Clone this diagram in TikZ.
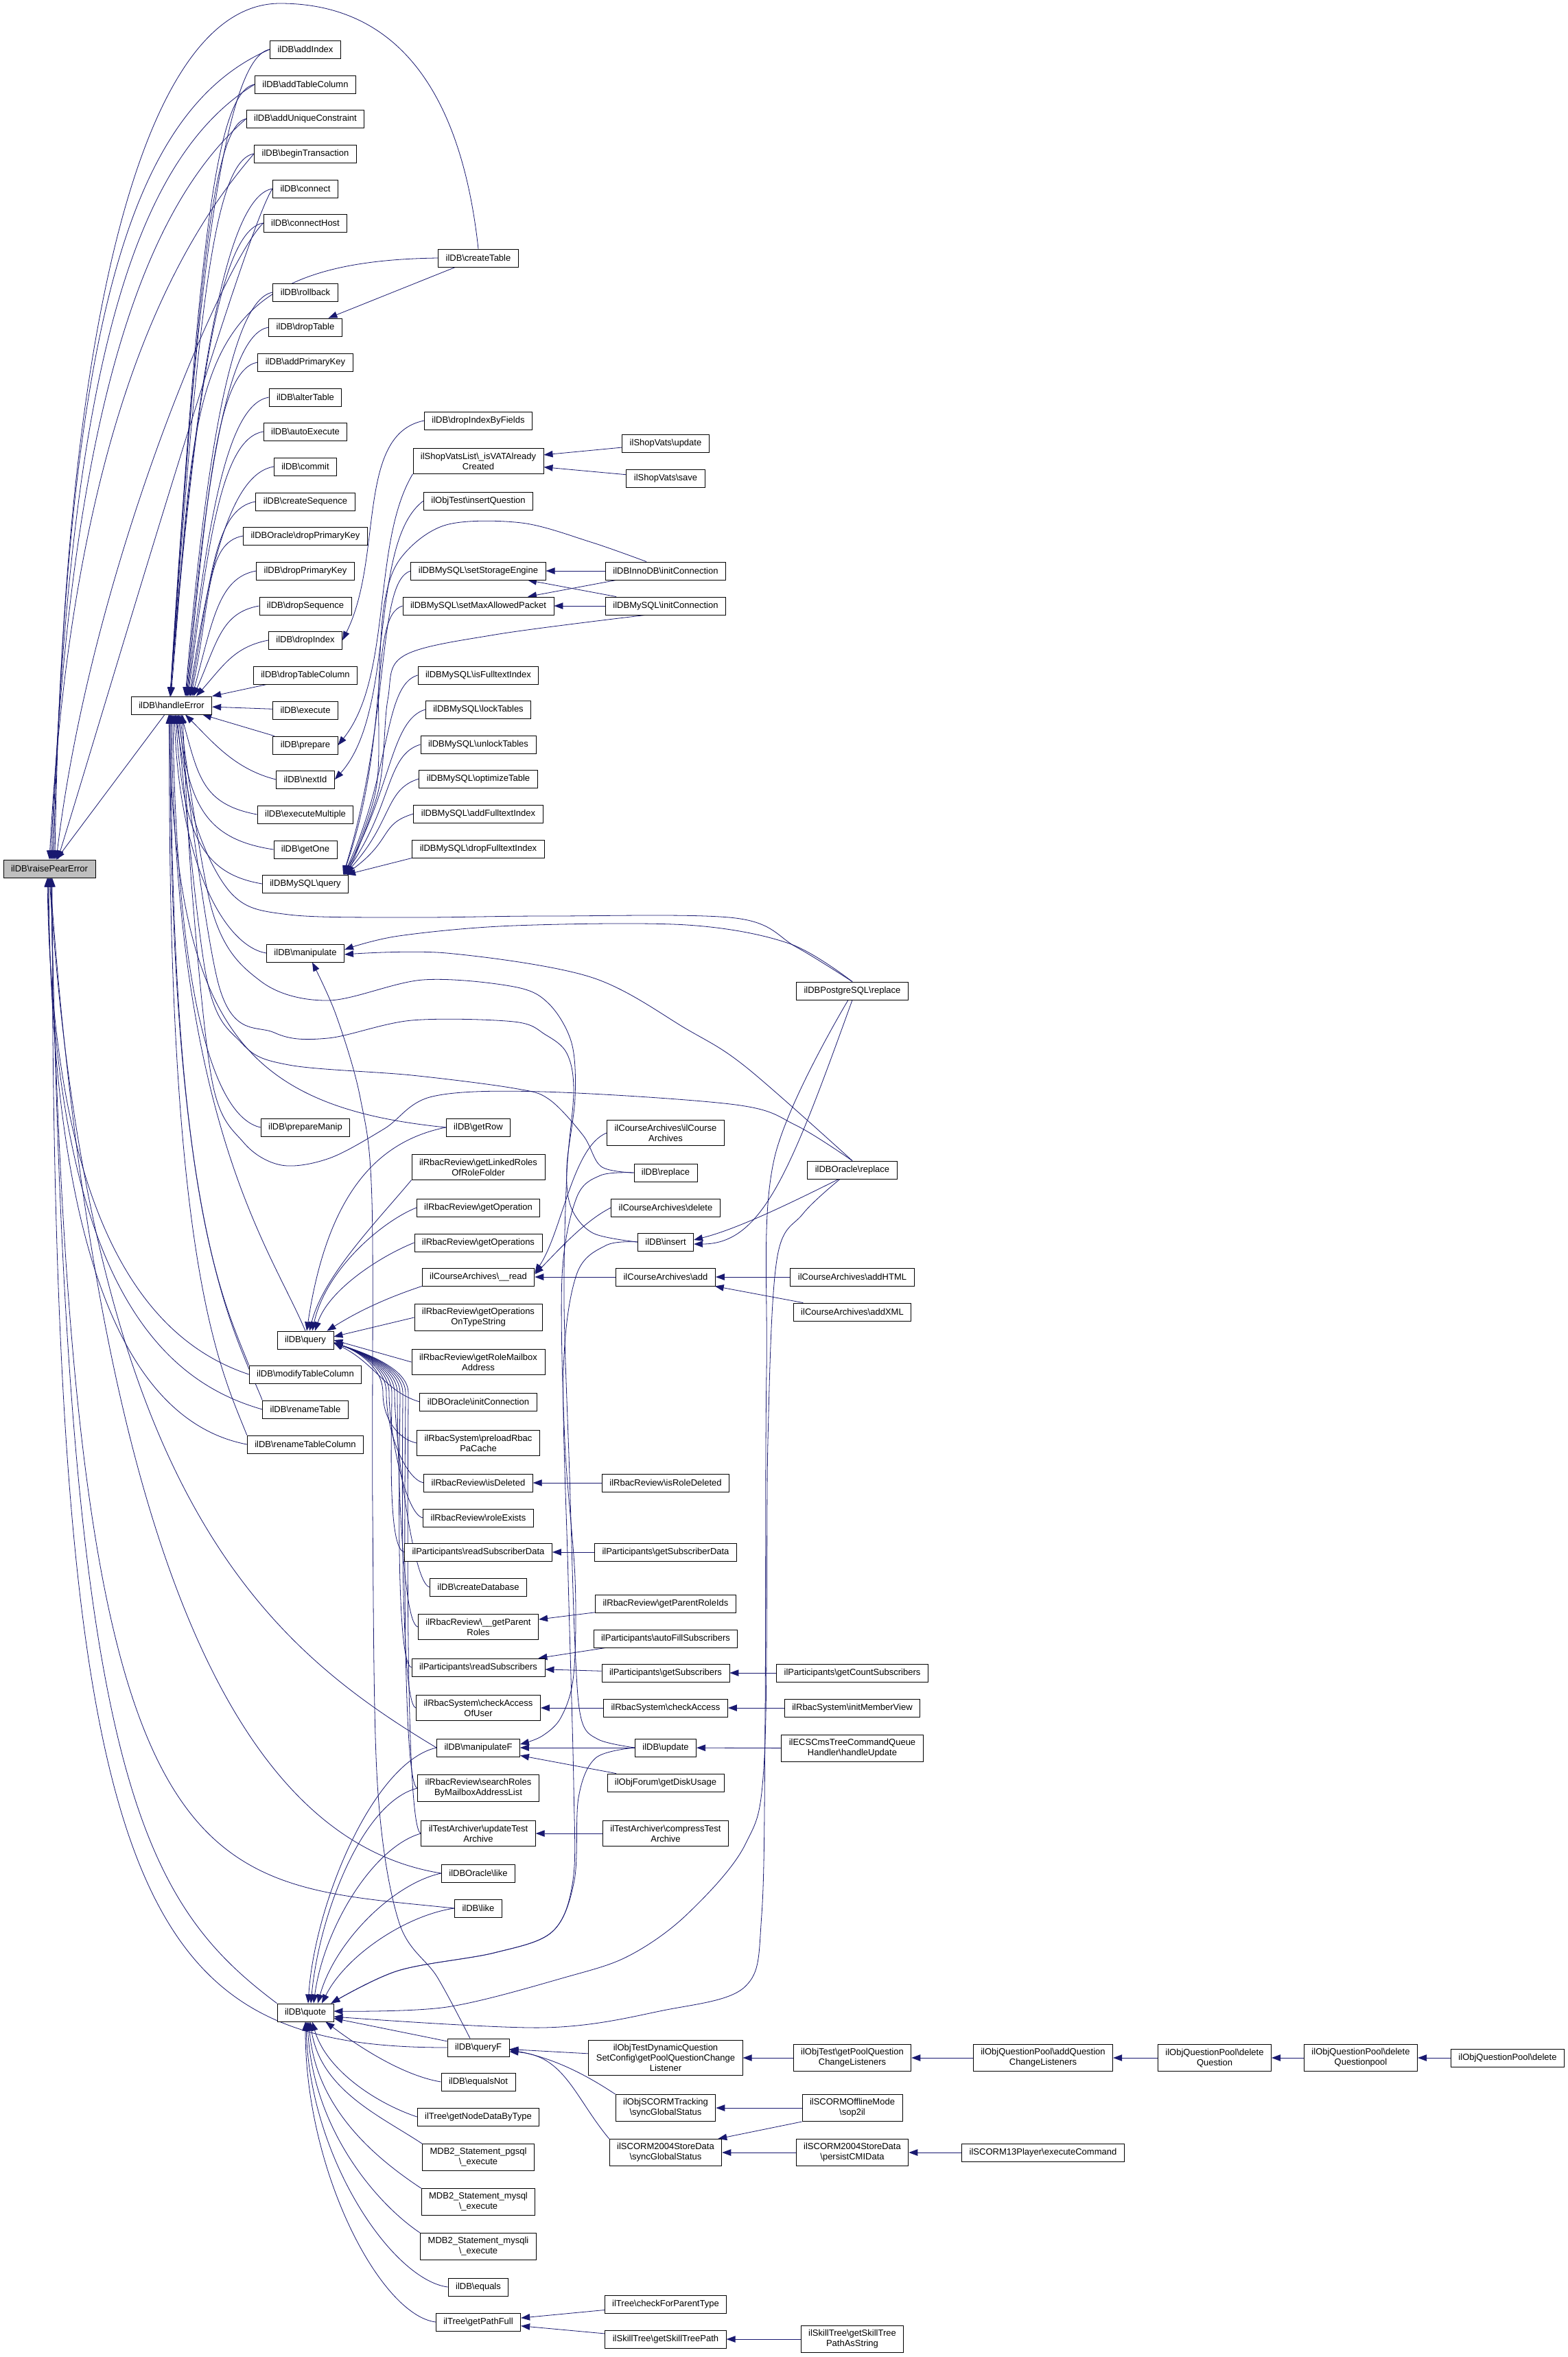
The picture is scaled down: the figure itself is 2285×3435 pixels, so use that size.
\documentclass[tikz,border=0pt]{standalone}
\usepackage{fontspec}
\setmainfont{Liberation Sans}
\usetikzlibrary{arrows.meta,backgrounds}
\definecolor{edgeblue}{HTML}{191970}
\newcommand{\bsl}{\textbackslash}

\begin{document}
\begin{tikzpicture}[x=1pt, y=1pt,
  fn/.style={draw=black, line width=0.9pt, fill=white, font=\fontsize{13}{15}\selectfont,
    inner xsep=11pt, inner ysep=6pt, minimum height=26pt, align=center},
  hit/.style={fn, fill=black!25},
  call/.style={draw=edgeblue, line width=0.8pt, -{Triangle[length=13pt, width=9.5pt]}}]
  \useasboundingbox (0,0) rectangle (2285,-3435);

  % callee and the error handler
  \node[hit] (rpe) at (72,-1266) {ilDB\bsl raisePearError};
  \node[fn] (he) at (250,-1028) {ilDB\bsl handleError};

  % ilDB methods
  \node[fn] (addIndex) at (445,-72) {ilDB\bsl addIndex};
  \node[fn] (addTableColumn) at (445,-123) {ilDB\bsl addTableColumn};
  \node[fn] (addUniqueConstraint) at (445,-173) {ilDB\bsl addUniqueConstraint};
  \node[fn] (beginTransaction) at (445,-224) {ilDB\bsl beginTransaction};
  \node[fn] (connect) at (445,-275) {ilDB\bsl connect};
  \node[fn] (connectHost) at (445,-325) {ilDB\bsl connectHost};
  \node[fn] (rollback) at (445,-426) {ilDB\bsl rollback};
  \node[fn] (dropTable) at (445,-477) {ilDB\bsl dropTable};
  \node[fn] (addPrimaryKey) at (445,-528) {ilDB\bsl addPrimaryKey};
  \node[fn] (alterTable) at (445,-579) {ilDB\bsl alterTable};
  \node[fn] (autoExecute) at (445,-629) {ilDB\bsl autoExecute};
  \node[fn] (commit) at (445,-680) {ilDB\bsl commit};
  \node[fn] (createSequence) at (445,-731) {ilDB\bsl createSequence};
  \node[fn] (oraDropPK) at (445,-781) {ilDBOracle\bsl dropPrimaryKey};
  \node[fn] (dropPrimaryKey) at (445,-832) {ilDB\bsl dropPrimaryKey};
  \node[fn] (dropSequence) at (445,-883) {ilDB\bsl dropSequence};
  \node[fn] (dropIndex) at (445,-933) {ilDB\bsl dropIndex};
  \node[fn] (dropTableColumn) at (445,-984) {ilDB\bsl dropTableColumn};
  \node[fn] (execute) at (445,-1035) {ilDB\bsl execute};
  \node[fn] (prepare) at (445,-1086) {ilDB\bsl prepare};
  \node[fn] (nextId) at (445,-1136) {ilDB\bsl nextId};
  \node[fn] (executeMultiple) at (445,-1187) {ilDB\bsl executeMultiple};
  \node[fn] (getOne) at (445,-1238) {ilDB\bsl getOne};
  \node[fn] (myQuery) at (445,-1288) {ilDBMySQL\bsl query};
  \node[fn] (manipulate) at (445,-1389) {ilDB\bsl manipulate};
  \node[fn] (prepareManip) at (445,-1643) {ilDB\bsl prepareManip};
  \node[fn] (query) at (445,-1953) {ilDB\bsl query};
  \node[fn] (modifyTableColumn) at (445,-2003) {ilDB\bsl modifyTableColumn};
  \node[fn] (renameTable) at (445,-2054) {ilDB\bsl renameTable};
  \node[fn] (renameTableColumn) at (445,-2105) {ilDB\bsl renameTableColumn};
  \node[fn] (quote) at (445,-2933) {ilDB\bsl quote};

  % second row of callers
  \node[fn] (createTable) at (697,-376) {ilDB\bsl createTable};
  \node[fn] (dropIndexByFields) at (697,-613) {ilDB\bsl dropIndexByFields};
  \node[fn] (isVAT) at (697,-672) {ilShopVatsList\bsl\_isVATAlready\\Created};
  \node[fn] (insertQuestion) at (697,-730) {ilObjTest\bsl insertQuestion};
  \node[fn] (setStorageEngine) at (697,-832) {ilDBMySQL\bsl setStorageEngine};
  \node[fn] (setMaxAllowedPacket) at (697,-883) {ilDBMySQL\bsl setMaxAllowedPacket};
  \node[fn] (isFulltextIndex) at (697,-984) {ilDBMySQL\bsl isFulltextIndex};
  \node[fn] (lockTables) at (697,-1034) {ilDBMySQL\bsl lockTables};
  \node[fn] (unlockTables) at (697,-1085) {ilDBMySQL\bsl unlockTables};
  \node[fn] (optimizeTable) at (697,-1135) {ilDBMySQL\bsl optimizeTable};
  \node[fn] (addFulltextIndex) at (697,-1186) {ilDBMySQL\bsl addFulltextIndex};
  \node[fn] (dropFulltextIndex) at (697,-1237) {ilDBMySQL\bsl dropFulltextIndex};
  \node[fn] (getRow) at (697,-1643) {ilDB\bsl getRow};
  \node[fn] (getLinkedRoles) at (697,-1701) {ilRbacReview\bsl getLinkedRoles\\OfRoleFolder};
  \node[fn] (getOperation) at (697,-1760) {ilRbacReview\bsl getOperation};
  \node[fn] (getOperations) at (697,-1811) {ilRbacReview\bsl getOperations};
  \node[fn] (read) at (697,-1861) {ilCourseArchives\bsl\_\_read};
  \node[fn] (getOpsOnType) at (697,-1920) {ilRbacReview\bsl getOperations\\OnTypeString};
  \node[fn] (getRoleMailbox) at (697,-1985) {ilRbacReview\bsl getRoleMailbox\\Address};
  \node[fn] (oraInitConn) at (697,-2043) {ilDBOracle\bsl initConnection};
  \node[fn] (preloadRbac) at (697,-2103) {ilRbacSystem\bsl preloadRbac\\PaCache};
  \node[fn] (isDeleted) at (697,-2161) {ilRbacReview\bsl isDeleted};
  \node[fn] (roleExists) at (697,-2212) {ilRbacReview\bsl roleExists};
  \node[fn] (readSubscriberData) at (697,-2262) {ilParticipants\bsl readSubscriberData};
  \node[fn] (createDatabase) at (697,-2313) {ilDB\bsl createDatabase};
  \node[fn] (getParentRoles) at (697,-2371) {ilRbacReview\bsl\_\_getParent\\Roles};
  \node[fn] (readSubscribers) at (697,-2430) {ilParticipants\bsl readSubscribers};
  \node[fn] (checkAccessOfUser) at (697,-2489) {ilRbacSystem\bsl checkAccess\\OfUser};
  \node[fn] (manipulateF) at (697,-2547) {ilDB\bsl manipulateF};
  \node[fn] (searchRoles) at (697,-2606) {ilRbacReview\bsl searchRoles\\ByMailboxAddressList};
  \node[fn] (updateTestArchive) at (697,-2672) {ilTestArchiver\bsl updateTest\\Archive};
  \node[fn] (oraLike) at (697,-2730) {ilDBOracle\bsl like};
  \node[fn] (like) at (697,-2781) {ilDB\bsl like};
  \node[fn] (queryF) at (697,-2984) {ilDB\bsl queryF};
  \node[fn] (equalsNot) at (697,-3034) {ilDB\bsl equalsNot};
  \node[fn] (getNodeDataByType) at (697,-3085) {ilTree\bsl getNodeDataByType};
  \node[fn] (mdbPgsql) at (697,-3144) {MDB2\_Statement\_pgsql\\\bsl\_execute};
  \node[fn] (mdbMysql) at (697,-3209) {MDB2\_Statement\_mysql\\\bsl\_execute};
  \node[fn] (mdbMysqli) at (697,-3274) {MDB2\_Statement\_mysqli\\\bsl\_execute};
  \node[fn] (equals) at (697,-3333) {ilDB\bsl equals};
  \node[fn] (getPathFull) at (697,-3384) {ilTree\bsl getPathFull};

  % third row
  \node[fn] (shopUpdate) at (970,-646) {ilShopVats\bsl update};
  \node[fn] (shopSave) at (970,-697) {ilShopVats\bsl save};
  \node[fn] (innoInit) at (970,-832) {ilDBInnoDB\bsl initConnection};
  \node[fn] (mysqlInit) at (970,-883) {ilDBMySQL\bsl initConnection};
  \node[fn] (courseArchives) at (970,-1651) {ilCourseArchives\bsl ilCourse\\Archives};
  \node[fn] (replace) at (970,-1709) {ilDB\bsl replace};
  \node[fn] (caDelete) at (970,-1760) {ilCourseArchives\bsl delete};
  \node[fn] (insert) at (970,-1810) {ilDB\bsl insert};
  \node[fn] (caAdd) at (970,-1861) {ilCourseArchives\bsl add};
  \node[fn] (isRoleDeleted) at (970,-2161) {ilRbacReview\bsl isRoleDeleted};
  \node[fn] (getSubscriberData) at (970,-2262) {ilParticipants\bsl getSubscriberData};
  \node[fn] (getParentRoleIds) at (970,-2337) {ilRbacReview\bsl getParentRoleIds};
  \node[fn] (autoFill) at (970,-2388) {ilParticipants\bsl autoFillSubscribers};
  \node[fn] (getSubscribers) at (970,-2438) {ilParticipants\bsl getSubscribers};
  \node[fn] (checkAccess) at (970,-2489) {ilRbacSystem\bsl checkAccess};
  \node[fn] (update) at (970,-2547) {ilDB\bsl update};
  \node[fn] (getDiskUsage) at (970,-2598) {ilObjForum\bsl getDiskUsage};
  \node[fn] (compressTestArchive) at (970,-2672) {ilTestArchiver\bsl compressTest\\Archive};
  \node[fn] (dynQuestion) at (970,-2999) {ilObjTestDynamicQuestion\\SetConfig\bsl getPoolQuestionChange\\Listener};
  \node[fn] (scormTracking) at (970,-3072) {ilObjSCORMTracking\\\bsl syncGlobalStatus};
  \node[fn] (scorm2004Sync) at (970,-3137) {ilSCORM2004StoreData\\\bsl syncGlobalStatus};
  \node[fn] (checkForParentType) at (970,-3358) {ilTree\bsl checkForParentType};
  \node[fn] (getSkillTreePath) at (970,-3409) {ilSkillTree\bsl getSkillTreePath};

  % fourth row and beyond
  \node[fn] (pgReplace) at (1242,-1444) {ilDBPostgreSQL\bsl replace};
  \node[fn] (oraReplace) at (1242,-1705) {ilDBOracle\bsl replace};
  \node[fn] (addHTML) at (1242,-1861) {ilCourseArchives\bsl addHTML};
  \node[fn] (addXML) at (1242,-1912) {ilCourseArchives\bsl addXML};
  \node[fn] (getCountSubscribers) at (1242,-2438) {ilParticipants\bsl getCountSubscribers};
  \node[fn] (initMemberView) at (1242,-2489) {ilRbacSystem\bsl initMemberView};
  \node[fn] (ecsHandleUpdate) at (1242,-2548) {ilECSCmsTreeCommandQueue\\Handler\bsl handleUpdate};
  \node[fn] (getPoolQCL) at (1242,-2999) {ilObjTest\bsl getPoolQuestion\\ChangeListeners};
  \node[fn] (sop2il) at (1242,-3072) {ilSCORMOfflineMode\\\bsl sop2il};
  \node[fn] (persistCMIData) at (1242,-3137) {ilSCORM2004StoreData\\\bsl persistCMIData};
  \node[fn] (skillTreeAsString) at (1242,-3409) {ilSkillTree\bsl getSkillTree\\PathAsString};
  \node[fn] (addQCL) at (1520,-2999) {ilObjQuestionPool\bsl addQuestion\\ChangeListeners};
  \node[fn] (executeCommand) at (1520,-3137) {ilSCORM13Player\bsl executeCommand};
  \node[fn] (deleteQuestion) at (1770,-2999) {ilObjQuestionPool\bsl delete\\Question};
  \node[fn] (deleteQuestionpool) at (1983,-2999) {ilObjQuestionPool\bsl delete\\Questionpool};
  \node[fn] (qpDelete) at (2197,-2999) {ilObjQuestionPool\bsl delete};

  \begin{scope}[on background layer]
  \fill[white] (0,0) rectangle (2285,-3435);

  % into raisePearError from above
  \draw[call] (he) -- (rpe);
  \draw[call] (createTable.north) .. controls +(-25,230) and +(170,0) .. (408,-5) .. controls +(-200,0) and +(12,780) .. ([xshift=8pt]rpe.north);
  \draw[call] (addIndex.west) .. controls +(-210,-90) and +(20,760) .. ([xshift=6pt]rpe.north);
  \draw[call] (addTableColumn.west) .. controls +(-180,-110) and +(24,700) .. ([xshift=4pt]rpe.north);
  \draw[call] (addUniqueConstraint.west) .. controls +(-150,-130) and +(28,650) .. ([xshift=2pt]rpe.north);
  \draw[call] (beginTransaction.west) .. controls +(-130,-150) and +(32,600) .. (rpe.north);
  \draw[call] (connect.west) .. controls +(-40,-60) and +(80,260) .. ([xshift=12pt]rpe.north);
  \draw[call] (connectHost.west) .. controls +(-60,-60) and +(50,420) .. ([xshift=10pt]rpe.north);

  % into raisePearError from below
  \draw[call] (modifyTableColumn.west) .. controls +(-120,40) and +(8,-550) .. ([xshift=-3pt]rpe.south);
  \draw[call] (renameTable.west) .. controls +(-140,40) and +(6,-600) .. ([xshift=-2pt]rpe.south);
  \draw[call] (renameTableColumn.west) .. controls +(-130,25) and +(4,-650) .. ([xshift=-1pt]rpe.south);
  \draw[call] (manipulateF.west) .. controls +(-250,150) and +(60,-900) .. (rpe.south);
  \draw[call] (oraLike.west) .. controls +(-250,40) and +(80,-1100) .. ([xshift=1pt]rpe.south);
  \draw[call] (like.west) .. controls +(-380,40) and +(30,-1500) .. ([xshift=2pt]rpe.south);
  \draw[call] (quote.north west) .. controls +(-200,150) and +(20,-1300) .. ([xshift=3pt]rpe.south);
  \draw[call] (queryF.west) .. controls +(-450,0) and +(0,-1500) .. ([xshift=4pt]rpe.south);

  % into handleError from above
  \draw[call] (addIndex.west) .. controls +(-60,-10) and +(40,660) .. ([xshift=-2pt]he.north);
  \draw[call] (addTableColumn.west) .. controls +(-60,-10) and +(40,620) .. ([xshift=-2pt]he.north);
  \draw[call] (addUniqueConstraint.west) .. controls +(-50,-10) and +(40,590) .. ([xshift=-2pt]he.north);
  \draw[call] (beginTransaction.west) .. controls +(-60,-10) and +(40,550) .. ([xshift=-2pt]he.north);
  \draw[call] (connect.west) .. controls +(-60,-10) and +(40,520) .. ([xshift=-2pt]he.north);
  \draw[call] (connectHost.west) .. controls +(-60,-10) and +(40,480) .. ([xshift=-2pt]he.north);
  \draw[call] (createTable.west) .. controls +(-380,-5) and +(40,450) .. ([xshift=-1pt]he.north);
  \draw[call] (rollback.west) .. controls +(-60,-10) and +(30,350) .. ([xshift=20pt]he.north);
  \draw[call] (dropTable.west) .. controls +(-60,-10) and +(30,320) .. ([xshift=21pt]he.north);
  \draw[call] (addPrimaryKey.west) .. controls +(-60,-10) and +(30,290) .. ([xshift=22pt]he.north);
  \draw[call] (alterTable.west) .. controls +(-60,-10) and +(30,260) .. ([xshift=23pt]he.north);
  \draw[call] (autoExecute.west) .. controls +(-60,-10) and +(30,230) .. ([xshift=24pt]he.north);
  \draw[call] (commit.west) .. controls +(-60,-10) and +(30,200) .. ([xshift=26pt]he.north);
  \draw[call] (createSequence.west) .. controls +(-60,-10) and +(30,170) .. ([xshift=27pt]he.north);
  \draw[call] (oraDropPK.west) .. controls +(-55,-10) and +(30,140) .. ([xshift=28pt]he.north);
  \draw[call] (dropPrimaryKey.west) .. controls +(-55,-10) and +(30,110) .. ([xshift=30pt]he.north);
  \draw[call] (dropSequence.west) .. controls +(-55,-10) and +(35,80) .. ([xshift=32pt]he.north);
  \draw[call] (dropIndex.west) .. controls +(-50,-10) and +(40,45) .. ([xshift=36pt]he.north);
  \draw[call] ([xshift=20pt]dropTableColumn.south west) -- (he.north east);
  \draw[call] (execute) -- (he);

  % into handleError from below
  \draw[call] (prepare) -- (he);
  \draw[call] (nextId.west) .. controls +(-60,15) and +(40,-40) .. ([xshift=20pt]he.south);
  \draw[call] (executeMultiple.west) .. controls +(-80,15) and +(25,-90) .. ([xshift=14pt]he.south);
  \draw[call] (getOne.west) .. controls +(-100,15) and +(15,-130) .. ([xshift=10pt]he.south);
  \draw[call] (myQuery.west) .. controls +(-90,15) and +(10,-170) .. ([xshift=6pt]he.south);
  \draw[call] (manipulate.west) .. controls +(-60,10) and +(8,-220) .. ([xshift=4pt]he.south);
  \draw[call] (prepareManip.west) .. controls +(-70,15) and +(5,-400) .. ([xshift=2pt]he.south);
  \draw[call] (query.north) .. controls +(-50,120) and +(5,-600) .. (he.south);
  \draw[call] (modifyTableColumn.north west) .. controls +(-40,100) and +(0,-700) .. ([xshift=-1pt]he.south);
  \draw[call] (renameTable.north west) .. controls +(-40,100) and +(-2,-750) .. ([xshift=-2pt]he.south);
  \draw[call] (renameTableColumn.north west) .. controls +(-40,100) and +(-4,-800) .. ([xshift=-3pt]he.south);
  \draw[call] (getRow.west) .. controls +(-300,30) and +(10,-450) .. ([xshift=-4pt]he.south);
  \draw[call] plot[smooth, tension=.55] coordinates {(replace.west) (876,-1700) (850,-1655) (800,-1602) (749,-1586) (600,-1567) (421,-1552) (352,-1520) (300,-1420) ([xshift=8pt]he.south)};
  \draw[call] plot[smooth, tension=.55] coordinates {(insert.west) (864,-1797) (832,-1759) (826,-1700) (838,-1600) (833,-1520) (800,-1463) (749,-1438) (616,-1428) (478,-1458) (380,-1430) (310,-1330) ([xshift=12pt]he.south)};
  \draw[call] plot[smooth, tension=.55] coordinates {(update.west) (872,-2535) (847,-2505) (838,-2400) (830,-2150) (822,-1900) (826,-1710) (836,-1590) (826,-1535) (795,-1508) (749,-1489) (600,-1487) (478,-1513) (400,-1505) (320,-1440) ([xshift=10pt]he.south)};
  \draw[call] plot[smooth, tension=.55] coordinates {(pgReplace.north) (1160,-1380) (1072,-1338) (800,-1335) (600,-1337) (421,-1333) (340,-1305) (285,-1200) ([xshift=6pt]he.south)};
  \draw[call] plot[smooth, tension=.55] coordinates {(oraReplace.north) (1160,-1640) (1072,-1610) (791,-1591) (630,-1598) (560,-1645) (480,-1688) (410,-1698) (355,-1665) (310,-1580) (280,-1300) ([xshift=16pt]he.south)};

  % ilDB\manipulate and ilDB\insert
  \draw[call] plot[smooth, tension=.55] coordinates {(pgReplace.north) (1150,-1375) (1001,-1348) (749,-1349) (581,-1364) ([yshift=5pt]manipulate.east)};
  \draw[call] plot[smooth, tension=.55] coordinates {(oraReplace.north) (1087,-1555) (1001,-1500) (861,-1424) (651,-1389) ([yshift=-2pt]manipulate.east)};
  \draw[call] plot[smooth, tension=.55] coordinates {([xshift=-12pt]queryF.north) (637,-2881) (581,-2800) (550,-2600) (543,-2200) (542,-1750) (525,-1600) (490,-1480) ([xshift=10pt]manipulate.south)};
  \draw[call] (pgReplace.south) .. controls +(-90,-250) and +(100,0) .. ([yshift=-3pt]insert.east);
  \draw[call] ([xshift=-20pt]oraReplace.south) .. controls +(-80,-40) and +(60,15) .. ([yshift=3pt]insert.east);

  % ilDB\quote from the right
  \draw[call] plot[smooth, tension=.55] coordinates {([xshift=-6pt]pgReplace.south) (1128,-1690) (1117,-2000) (1115,-2500) (1110,-2790) (1086,-2895) (966,-2930) (791,-2955) ([yshift=-6pt]quote.east)};
  \draw[call] plot[smooth, tension=.55] coordinates {([xshift=-18pt]oraReplace.south) (1170,-1769) (1132,-1836) (1119,-2100) (1114,-2560) (1086,-2688) (1001,-2790) (917,-2850) (826,-2881) (651,-2925) ([yshift=2pt]quote.east)};
  \draw[call] plot[smooth, tension=.55] coordinates {(insert.west) (883,-1815) (840,-1858) (821,-2000) (828,-2300) (836,-2600) (835,-2740) (805,-2815) (720,-2846) (580,-2872) ([xshift=-4pt]quote.north east)};
  \draw[call] plot[smooth, tension=.55] coordinates {(update.west) (868,-2562) (843,-2620) (837,-2740) (805,-2815) (720,-2846) (580,-2872) ([xshift=-4pt]quote.north east)};
  \draw[call] plot[smooth, tension=.55] coordinates {(replace.west) (875,-1713) (840,-1746) (819,-1861) (823,-2100) (838,-2300) (836,-2440) (818,-2502) (790,-2530) ([yshift=5pt]manipulateF.east)};

  % ilCourseArchives
  \draw[call] (courseArchives.west) .. controls +(-50,-20) and +(40,60) .. ([yshift=6pt]read.east);
  \draw[call] (caDelete.west) .. controls +(-40,-20) and +(30,30) .. ([yshift=4pt]read.east);
  \draw[call] (caAdd) -- (read);
  \draw[call] (addHTML) -- (caAdd);
  \draw[call] (addXML) -- (caAdd);

  % ilDB\query
  \draw[call] (getRow.west) .. controls +(-100,-20) and +(30,200) .. ([xshift=2pt]query.north);
  \draw[call] (getLinkedRoles.south west) .. controls +(-50,-60) and +(20,80) .. ([xshift=6pt]query.north);
  \draw[call] (getOperation.west) .. controls +(-50,-20) and +(20,90) .. ([xshift=10pt]query.north);
  \draw[call] (getOperations.west) .. controls +(-50,-20) and +(20,60) .. ([xshift=14pt]query.north);
  \draw[call] (read.south west) .. controls +(-60,-20) and +(40,25) .. ([xshift=-10pt]query.north east);
  \draw[call] (getOpsOnType.west) -- ([yshift=5pt]query.east);
  \draw[call] (getRoleMailbox.west) -- (query.east);
  \draw[call] (oraInitConn.west) .. controls +(-50,15) and +(60,-30) .. ([yshift=-4pt]query.east);
  \draw[call] (preloadRbac.west) .. controls +(-25,5) and +(0,-40) .. (558,-2030) .. controls +(0,40) and +(30,-10) .. ([yshift=-4pt]query.east);
  \draw[call] (isDeleted.west) .. controls +(-25,5) and +(0,-60) .. (563,-2030) .. controls +(0,40) and +(30,-10) .. ([yshift=-4pt]query.east);
  \draw[call] (roleExists.west) .. controls +(-25,5) and +(0,-60) .. (567,-2030) .. controls +(0,40) and +(30,-10) .. ([yshift=-4pt]query.east);
  \draw[call] (readSubscriberData.west) .. controls +(-25,5) and +(0,-60) .. (571,-2030) .. controls +(0,40) and +(30,-10) .. ([yshift=-4pt]query.east);
  \draw[call] (createDatabase.west) .. controls +(-25,5) and +(0,-60) .. (575,-2030) .. controls +(0,40) and +(30,-10) .. ([yshift=-4pt]query.east);
  \draw[call] (getParentRoles.west) .. controls +(-25,5) and +(0,-60) .. (579,-2030) .. controls +(0,40) and +(30,-10) .. ([yshift=-4pt]query.east);
  \draw[call] (readSubscribers.west) .. controls +(-25,5) and +(0,-60) .. (583,-2030) .. controls +(0,40) and +(30,-10) .. ([yshift=-4pt]query.east);
  \draw[call] (checkAccessOfUser.west) .. controls +(-25,5) and +(0,-60) .. (587,-2030) .. controls +(0,40) and +(30,-10) .. ([yshift=-4pt]query.east);
  \draw[call] (searchRoles.west) .. controls +(-25,5) and +(0,-60) .. (591,-2030) .. controls +(0,40) and +(30,-10) .. ([yshift=-4pt]query.east);
  \draw[call] (updateTestArchive.west) .. controls +(-25,5) and +(0,-60) .. (595,-2030) .. controls +(0,40) and +(30,-10) .. ([yshift=-4pt]query.east);

  % ilDB\quote from the left column
  \draw[call] (manipulateF.west) .. controls +(-90,-20) and +(10,150) .. ([xshift=4pt]quote.north);
  \draw[call] (searchRoles.west) .. controls +(-80,-20) and +(12,130) .. ([xshift=8pt]quote.north);
  \draw[call] (updateTestArchive.west) .. controls +(-70,-20) and +(15,110) .. ([xshift=12pt]quote.north);
  \draw[call] (oraLike.west) .. controls +(-70,-15) and +(25,90) .. ([xshift=18pt]quote.north);
  \draw[call] (like.west) .. controls +(-70,-10) and +(35,70) .. ([xshift=24pt]quote.north);
  \draw[call] (queryF) -- (quote);
  \draw[call] (equalsNot.west) .. controls +(-60,10) and +(40,-30) .. ([xshift=-12pt]quote.south east);
  \draw[call] (getNodeDataByType.west) .. controls +(-60,20) and +(20,-70) .. ([xshift=10pt]quote.south);
  \draw[call] (mdbPgsql.north west) .. controls +(-60,40) and +(15,-100) .. ([xshift=7pt]quote.south);
  \draw[call] (mdbMysql.north west) .. controls +(-60,40) and +(10,-130) .. ([xshift=5pt]quote.south);
  \draw[call] (mdbMysqli.north west) .. controls +(-60,40) and +(8,-160) .. ([xshift=3pt]quote.south);
  \draw[call] (equals.west) .. controls +(-80,10) and +(5,-200) .. ([xshift=1pt]quote.south);
  \draw[call] (getPathFull.west) .. controls +(-80,10) and +(0,-220) .. (quote.south);

  % ilDB\queryF and its callers
  \draw[call] (dynQuestion) -- (queryF);
  \draw[call] (scormTracking.north west) .. controls +(-60,40) and +(50,-10) .. ([yshift=-3pt]queryF.east);
  \draw[call] (scorm2004Sync.north west) .. controls +(-50,60) and +(80,-5) .. ([yshift=-6pt]queryF.east);
  \draw[call] (getPoolQCL) -- (dynQuestion);
  \draw[call] (addQCL) -- (getPoolQCL);
  \draw[call] (deleteQuestion) -- (addQCL);
  \draw[call] (deleteQuestionpool) -- (deleteQuestion);
  \draw[call] (qpDelete) -- (deleteQuestionpool);
  \draw[call] (sop2il) -- (scormTracking);
  \draw[call] (sop2il.south west) -- ([xshift=-6pt]scorm2004Sync.north east);
  \draw[call] (persistCMIData) -- (scorm2004Sync);
  \draw[call] (executeCommand) -- (persistCMIData);
  \draw[call] (checkForParentType) -- (getPathFull);
  \draw[call] (getSkillTreePath) -- (getPathFull);
  \draw[call] (skillTreeAsString) -- (getSkillTreePath);

  % rbac, participants, archives
  \draw[call] (isRoleDeleted) -- (isDeleted);
  \draw[call] (getSubscriberData) -- (readSubscriberData);
  \draw[call] (getParentRoleIds) -- (getParentRoles);
  \draw[call] (autoFill) -- (readSubscribers);
  \draw[call] (getSubscribers) -- (readSubscribers);
  \draw[call] (getCountSubscribers) -- (getSubscribers);
  \draw[call] (checkAccess) -- (checkAccessOfUser);
  \draw[call] (initMemberView) -- (checkAccess);
  \draw[call] (update) -- (manipulateF);
  \draw[call] (getDiskUsage) -- (manipulateF);
  \draw[call] (ecsHandleUpdate) -- (update);
  \draw[call] (compressTestArchive) -- (updateTestArchive);

  % upper right
  \draw[call] (createTable) -- (dropTable);
  \draw[call] (shopUpdate) -- (isVAT);
  \draw[call] (shopSave) -- (isVAT);
  \draw[call] (innoInit) -- (setStorageEngine);
  \draw[call] (mysqlInit) -- (setStorageEngine);
  \draw[call] (innoInit) -- (setMaxAllowedPacket);
  \draw[call] (mysqlInit) -- (setMaxAllowedPacket);
  \draw[call] (dropIndexByFields.west) .. controls +(-100,-20) and +(60,120) .. (dropIndex.east);
  \draw[call] (isVAT.south west) .. controls +(-60,-100) and +(80,100) .. (prepare.east);
  \draw[call] (insertQuestion.west) .. controls +(-80,-60) and +(90,100) .. (nextId.east);

  % ilDBMySQL\query
  \draw[call] (setStorageEngine.west) .. controls +(-50,-15) and +(70,228) .. ([xshift=-8pt]myQuery.north east);
  \draw[call] (setMaxAllowedPacket.west) .. controls +(-50,-15) and +(70,202) .. ([xshift=-8pt]myQuery.north east);
  \draw[call] (isFulltextIndex.west) .. controls +(-50,-15) and +(70,152) .. ([xshift=-7pt]myQuery.north east);
  \draw[call] (lockTables.west) .. controls +(-50,-15) and +(70,127) .. ([xshift=-7pt]myQuery.north east);
  \draw[call] (unlockTables.west) .. controls +(-50,-15) and +(70,101) .. ([xshift=-6pt]myQuery.north east);
  \draw[call] (optimizeTable.west) .. controls +(-50,-15) and +(70,76) .. ([xshift=-6pt]myQuery.north east);
  \draw[call] (addFulltextIndex.west) .. controls +(-50,-15) and +(70,51) .. ([xshift=-5pt]myQuery.north east);
  \draw[call] (dropFulltextIndex.south west) -- ([xshift=-3pt]myQuery.north east);
  \draw[call] plot[smooth, tension=.55] coordinates {([xshift=-28pt]innoInit.north) (861,-790) (760,-762) (650,-765) (585,-812) (560,-880) (552,-1000) (548,-1150) ([xshift=-4pt]myQuery.north east)};
  \draw[call] plot[smooth, tension=.55] coordinates {([xshift=-30pt]mysqlInit.south) (721,-925) (588,-956) (565,-1020) (552,-1150) ([xshift=-2pt]myQuery.north east)};
  \end{scope}
\end{tikzpicture}
\end{document}
